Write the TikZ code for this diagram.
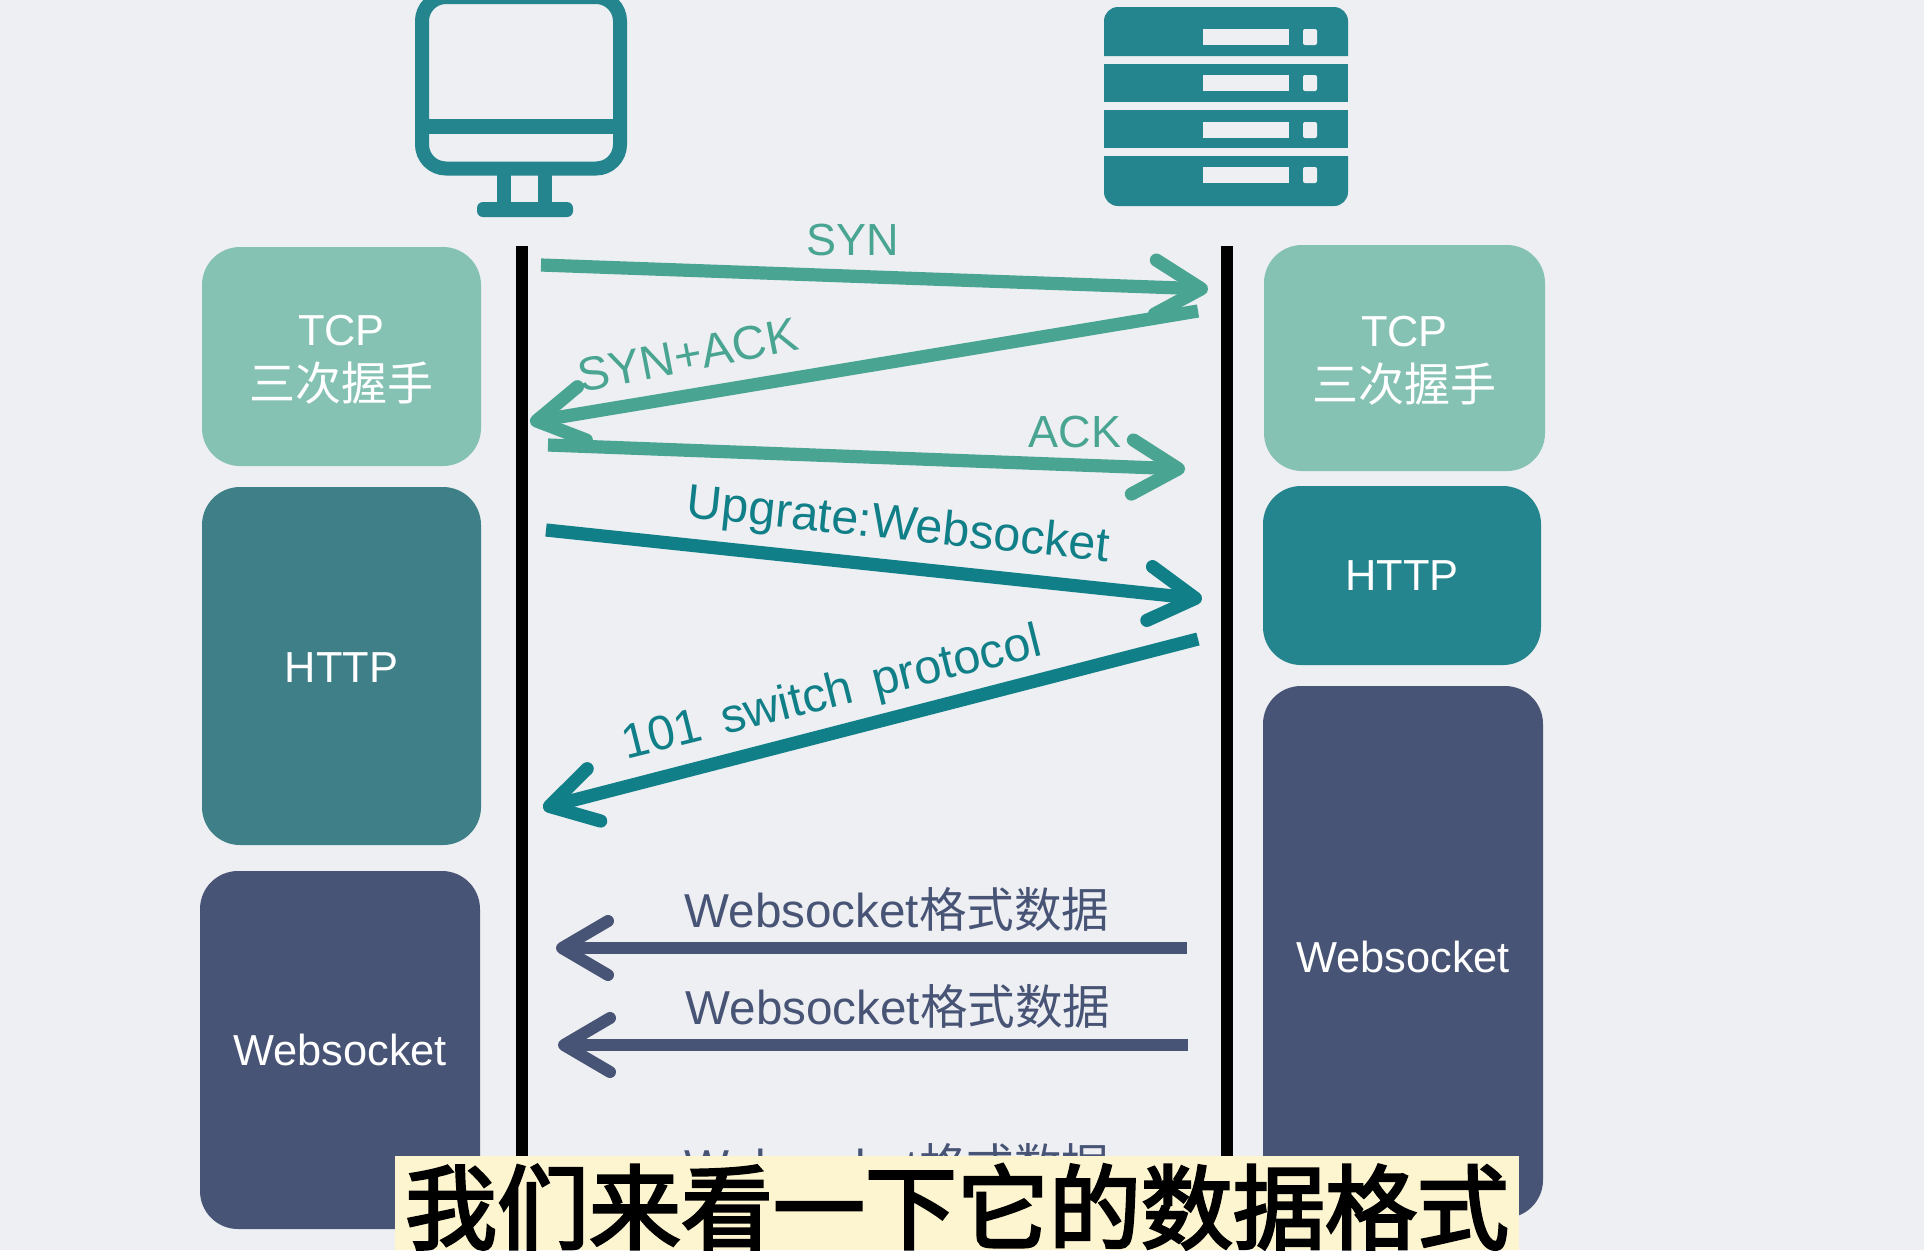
\documentclass[tikz,border=0pt]{standalone}
\usepackage{fontspec}
\setmainfont{Liberation Sans}
\newfontfamily\cjk{Noto Sans CJK SC}
\newfontfamily\subcjk[FakeBold=3]{Noto Sans CJK SC}
\usetikzlibrary{arrows.meta}
\usetikzlibrary{positioning}
\definecolor{paper}{HTML}{EDEFF2}
\definecolor{tealicon}{HTML}{25858E}
\definecolor{mint}{HTML}{86C2B4}
\definecolor{mintline}{HTML}{49A592}
\definecolor{tealdark}{HTML}{3F7F88}
\definecolor{tealline}{HTML}{107F87}
\definecolor{slate}{HTML}{485475}
\definecolor{subbg}{HTML}{FDF5CF}
\newcommand{\lowered}[2]{\raisebox{-#1}[\height][\depth]{#2}}
\begin{document}
\begin{tikzpicture}[x=0.5pt,y=-0.5pt]
\tikzstyle{block}=[rounded corners=19pt,inner sep=0pt,text=white,align=center,font=\fontsize{21.7}{27.5}\selectfont]
\tikzstyle{lifeline}=[black,line width=6pt]
\tikzstyle{msg}=[line width=6pt,-{Straight Barb[round,length=23pt,width=27pt]}]
\tikzstyle{msglabel}=[inner sep=0pt,font=\fontsize{24.2}{27}\selectfont]
\useasboundingbox (0,0) rectangle (1924,1250);
\clip (0,0) rectangle (1924,1250);
\fill[paper] (0,0) rectangle (1924,1250);
% client icon
\draw[tealicon,line width=7pt,rounded corners=12pt] (422,-3) rectangle (620,168.5);
\fill[tealicon] (428,119) rectangle (614,134);
\fill[tealicon] (497,168) rectangle (511,205);
\fill[tealicon] (538,168) rectangle (552,205);
\fill[tealicon,rounded corners=3pt] (477,202) rectangle (573,217);
% server icon
\fill[tealicon] (1104,56) [rounded corners=7pt] -- (1104,7) -- (1348,7) [sharp corners] -- (1348,56) -- cycle;
\fill[tealicon] (1104,64) rectangle (1348,102);
\fill[tealicon] (1104,110) rectangle (1348,148);
\fill[tealicon] (1104,156) [rounded corners=7pt] -- (1104,206) -- (1348,206) [sharp corners] -- (1348,156) -- cycle;
\foreach \y in {29,75,122,167} {
  \fill[paper] (1203,\y) rectangle (1289,\y+16);
  \fill[paper,rounded corners=1pt] (1303,\y) rectangle (1317,\y+16);
}
% blocks
\node[block,fill=mint,minimum width=139.5pt,minimum height=109.5pt] (tcpL) at (341.5,356.5) {\lowered{1.8pt}{TCP}\\\lowered{1.8pt}{\cjk\fontsize{23}{27.5}\selectfont 三次握手}};
\node[block,fill=tealdark,minimum width=139.5pt,minimum height=179pt] (httpL) at (341.5,666) {\lowered{0.8pt}{HTTP}};
\node[block,fill=slate,minimum width=140pt,minimum height=179pt] (wsL) at (340,1050) {Websocket};
\node[block,fill=mint,minimum width=140.5pt,minimum height=113pt] (tcpR) at (1404.5,358) {\lowered{1.2pt}{TCP}\\\lowered{1.2pt}{\cjk\fontsize{23}{27.5}\selectfont 三次握手}};
\node[block,fill=tealicon,minimum width=139pt,minimum height=89.5pt] (httpR) at (1402,575.5) {HTTP};
\node[block,fill=slate,minimum width=140pt,minimum height=266pt] (wsR) at (1403,952) {\lowered{2.4pt}{Websocket}};
% lifelines
\coordinate (lifeLtop) at (522,246);
\coordinate (lifeLend) at (522,1250);
\coordinate (lifeRtop) at (1227,246);
\coordinate (lifeRend) at (1227,1250);
\draw[lifeline] (lifeLtop) -- (lifeLend);
\draw[lifeline] (lifeRtop) -- (lifeRend);
% handshake
\coordinate (synA) at (541,265);
\coordinate (synB) at (1208,289);
\coordinate (sackA) at (1198,311);
\coordinate (sackB) at (530,422);
\coordinate (ackA) at (548,445);
\coordinate (ackB) at (1185,469);
\draw[msg,mintline,line width=6.6pt] (sackA) -- (sackB);
\draw[msg,mintline,line width=6.6pt] (synA) -- (synB);
\draw[msg,mintline,line width=6.6pt] (ackA) -- (ackB);
\node[msglabel,text=mintline,font=\fontsize{22.5}{27}\selectfont] (synT) at (853,240) {SYN};
\node[msglabel,text=mintline,rotate=11,font=\fontsize{23.7}{27}\selectfont] (sackT) at (688,355) {SYN+ACK};
\node[msglabel,text=mintline,font=\fontsize{22.5}{27}\selectfont] (ackT) at (1075,432) {ACK};
% upgrade
\coordinate (upA) at (546,530);
\coordinate (upB) at (1202,599);
\coordinate (swA) at (1198,639);
\coordinate (swB) at (543,808);
\draw[msg,tealline,line width=6.6pt] (upA) -- (upB);
\draw[msg,tealline,line width=6.6pt] (swA) -- (swB);
\node[msglabel,text=tealline,rotate=-6] (upT) at (898,527) {Upgrate:Websocket};
\node[msglabel,text=tealline,rotate=14] (swT) at (832,695) {101\, switch\, protocol};
% websocket frames
\coordinate (frameAa) at (1187,948);
\coordinate (frameAb) at (556,948);
\coordinate (frameBa) at (1188,1045);
\coordinate (frameBb) at (558,1045);
\draw[msg,slate] (frameAa) -- (frameAb);
\draw[msg,slate] (frameBa) -- (frameBb);
\node[msglabel,text=slate,font=\fontsize{23.8}{27}\selectfont] (frameAT) at (897,909) {Websocket\cjk 格式数据};
\node[msglabel,text=slate,font=\fontsize{23.8}{27}\selectfont] (frameBT) at (898,1006) {Websocket\cjk 格式数据};
\node[msglabel,text=slate,font=\fontsize{23.8}{27}\selectfont] (frameCT) at (897,1165) {Websocket\cjk 格式数据};
% subtitle
\node[fill=subbg,minimum width=562pt,minimum height=47pt,text height=41pt,text depth=2pt,inner sep=0pt,font=\subcjk\fontsize{46}{46}\selectfont] (subT) at (957,1203) {我们来看一下它的数据格式};
\end{tikzpicture}
\end{document}
